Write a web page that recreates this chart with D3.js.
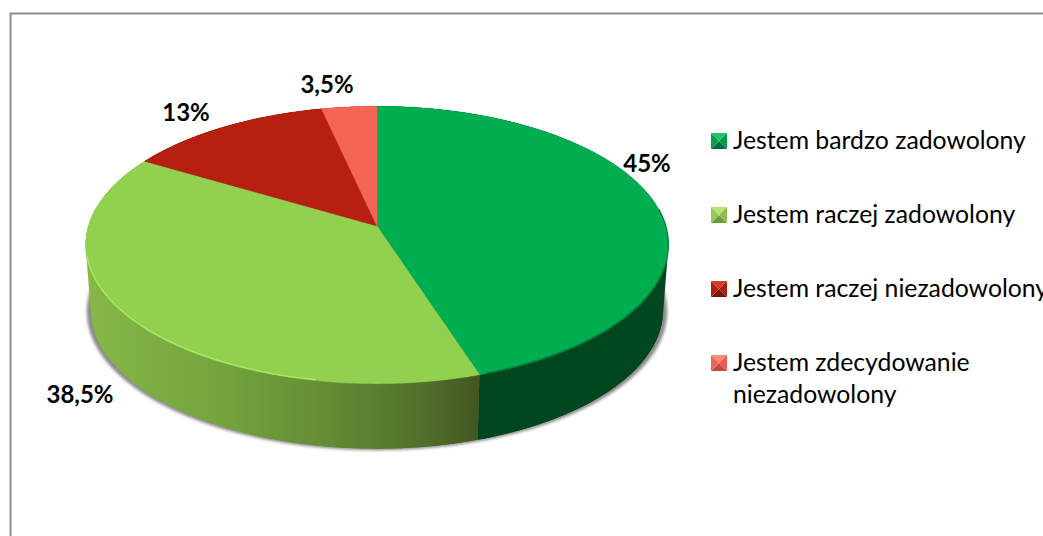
<!DOCTYPE html>
<html><head><meta charset="utf-8">
<script src="https://cdnjs.cloudflare.com/ajax/libs/d3/7.8.5/d3.min.js"></script>
<style>html,body{margin:0;padding:0;background:#fff;overflow:hidden}svg{display:block}text{font-family:Lato,"Open Sans",sans-serif;fill:#000}</style>
</head><body><svg id="c" width="1043" height="536"></svg>
<script>
const categories = ["Jestem bardzo zadowolony","Jestem raczej zadowolony","Jestem raczej niezadowolony","Jestem zdecydowanie niezadowolony"];
const values = [45,38.5,13,3.5];
const valueLabels = ["45%","38,5%","13%","3,5%"];
const topColors = ["#00ae4f","#92d050","#b72010","#f56555"];
const wallColors = ["#00461f","url(#wallLight)","#6b120a","#8f3a30"];
const legendLines = [["Jestem bardzo zadowolony"],["Jestem raczej zadowolony"],["Jestem raczej niezadowolony"],["Jestem zdecydowanie","niezadowolony"]];

const svg = d3.select("#c");
const defs = svg.append("defs");
const grad = defs.append("linearGradient").attr("id","wallLight").attr("gradientUnits","userSpaceOnUse").attr("x1",85).attr("x2",480).attr("y1",0).attr("y2",0);
[[0,"#86b847"],[.35,"#74a33e"],[.6,"#668d36"],[.85,"#51702b"],[1,"#425620"]].forEach(s=>grad.append("stop").attr("offset",s[0]).attr("stop-color",s[1]));
defs.append("filter").attr("id","blur").attr("x","-10%").attr("y","-10%").attr("width","120%").attr("height","120%").append("feGaussianBlur").attr("stdDeviation",1.8);
defs.append("filter").attr("id","soft").attr("x","-10%").attr("y","-10%").attr("width","120%").attr("height","120%").append("feGaussianBlur").attr("stdDeviation",.7);

// frame
svg.append("path").attr("d","M1043,13.5H10.5V536").attr("fill","none").attr("stroke","#8c8c8c").attr("stroke-width",2);

// perspective disc
const cx=377, cy=226, d0=288.6, b=105.2, c0=-0.1367, depth=65, shrink=0.982, shadowShrink=0.996;
const topPt = a => { const u=Math.sin(a), v=-Math.cos(a), w=1+c0*v; return [cx+d0*u/w,(cy+b*v)/w]; };
const botPt = (a,k=shrink) => { const p=topPt(a); return [cx+(p[0]-cx)*k,p[1]+depth]; };
const samples = (s,e,st=0.006)=>{ const n=Math.max(4,Math.ceil((e-s)/st)); return d3.range(n+1).map(i=>s+(e-s)*i/n); };
const line = d3.line();
const pie = d3.pie().sort(null).value(d=>d);
const arcs = pie(values);

// shadow
svg.append("path").attr("d",line(samples(0,2*Math.PI).map(a=>botPt(a,shadowShrink)))+"Z").attr("transform","translate(0,1.5)").attr("fill","#8a8a8a").attr("filter","url(#blur)");
// walls: filled band plus sparse quads so the tangents at the extremes fill
arcs.forEach((a,i)=>{
  const ss=samples(a.startAngle,a.endAngle);
  const g=svg.append("g").attr("fill",wallColors[i]);
  g.append("path").attr("d",line(ss.map(t=>topPt(t)).concat(ss.slice().reverse().map(t=>botPt(t))))+"Z");
  const q=samples(a.startAngle,a.endAngle,0.02);
  g.append("path").attr("fill-rule","nonzero").attr("d",d3.pairs(q).map(([s,e])=>{
    const P=[topPt(s),topPt(e),botPt(e),botPt(s)];
    const area=d3.polygonArea(P);
    return line(area>0?P:P.slice().reverse())+"Z";
  }).join(""));
});
// top faces
arcs.forEach((a,i)=>{
  const ss=samples(a.startAngle,a.endAngle);
  svg.append("path").attr("d",line([[cx,cy]].concat(ss.map(topPt)))+"Z").attr("fill",topColors[i]).attr("stroke",topColors[i]).attr("stroke-width",.4);
});
// bevel rim highlights
svg.append("path").attr("d",line(samples(arcs[1].startAngle+.5,arcs[1].endAngle-.75).map(t=>{const p=topPt(t);return [p[0]+.3,p[1]-.8];}))).attr("fill","none").attr("stroke","#a8ea60").attr("stroke-width",1.3).attr("filter","url(#soft)");
svg.append("path").attr("d",line(samples(arcs[0].startAngle+1.45,arcs[0].endAngle-.02).map(t=>{const p=topPt(t);return [p[0],p[1]-.6];}))).attr("fill","none").attr("stroke","#02803b").attr("stroke-width",1.2).attr("filter","url(#soft)");

// value labels
const labelAnchors=[[647,172],[80,403],[186,121],[327,93]];
svg.selectAll("text.val").data(valueLabels).join("text").attr("class","val")
  .attr("x",(d,i)=>labelAnchors[i][0]).attr("y",(d,i)=>labelAnchors[i][1])
  .attr("text-anchor","middle").attr("font-size",24).attr("font-weight",700).text(d=>d);

// legend
const legendY=d3.scalePoint().domain(categories).range([149,371]);
const legendShades=[["#1ec46c","#06693a","#00a050","#009a4c"],["#b4e27a","#6f9c3a","#94c858","#8dbd52"],["#d23a2a","#7d1208","#b02010","#a81e10"],["#f88a7c","#c4493c","#ee6455","#e65c4e"]];
categories.forEach((cat,i)=>{
  const y=legendY(cat), g=svg.append("g"), x0=711,x1=727,y0=y-16,y1=y,mx=(x0+x1)/2,my=(y0+y1)/2;
  const s=legendShades[i];
  g.append("path").attr("d",line([[x0,y0],[x1,y0],[mx,my]])+"Z").attr("fill",s[0]);
  g.append("path").attr("d",line([[x0,y1],[x1,y1],[mx,my]])+"Z").attr("fill",s[1]);
  g.append("path").attr("d",line([[x0,y0],[x0,y1],[mx,my]])+"Z").attr("fill",s[2]);
  g.append("path").attr("d",line([[x1,y0],[x1,y1],[mx,my]])+"Z").attr("fill",s[3]);
  const t=svg.append("text").attr("font-size",24.75);
  legendLines[i].forEach((ln,k)=>t.append("tspan").attr("x",733).attr("y",y+k*32).text(ln));
});
</script></body></html>
